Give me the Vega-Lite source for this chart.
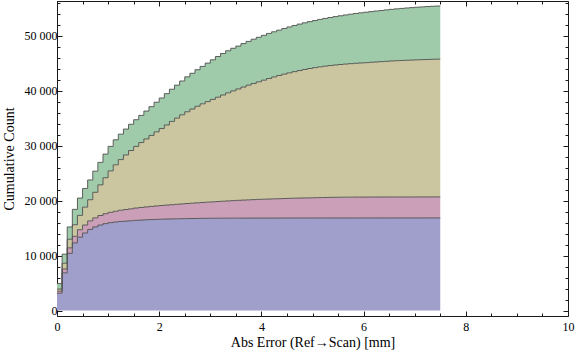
{
  "$schema": "https://vega.github.io/schema/vega-lite/v6.json",
  "width": 511,
  "height": 315,
  "autosize": {"type": "none"},
  "padding": {"left": 57, "top": 1, "right": 8, "bottom": 41},
  "background": "white",
  "config": {
    "view": {"stroke": "#1a1a1a", "strokeWidth": 1},
    "axis": {
      "labelFont": "Liberation Serif",
      "labelFontSize": 12,
      "labelColor": "#000000",
      "titleFont": "Liberation Serif",
      "titleFontSize": 14,
      "titleFontWeight": "normal",
      "titleColor": "#000000",
      "tickColor": "#1a1a1a",
      "tickWidth": 1,
      "domain": false,
      "grid": false,
      "labelOverlap": false,
      "labelFlush": false
    }
  },
  "data": {"values": [
    {"x": 0, "s4": 3150, "s3": 380, "s2": 370, "s1": 1000},
    {"x": 0.1, "s4": 6850, "s3": 700, "s2": 1050, "s1": 1650},
    {"x": 0.2, "s4": 10400, "s3": 1000, "s2": 1570, "s1": 2230},
    {"x": 0.3, "s4": 12300, "s3": 1200, "s2": 2100, "s1": 2800},
    {"x": 0.4, "s4": 13350, "s3": 1350, "s2": 2600, "s1": 3150},
    {"x": 0.5, "s4": 14100, "s3": 1450, "s2": 3250, "s1": 3400},
    {"x": 0.6, "s4": 14750, "s3": 1550, "s2": 3850, "s1": 3600},
    {"x": 0.7, "s4": 15200, "s3": 1650, "s2": 4650, "s1": 3850},
    {"x": 0.8, "s4": 15550, "s3": 1730, "s2": 5570, "s1": 4100},
    {"x": 0.9, "s4": 15800, "s3": 1810, "s2": 6540, "s1": 4300},
    {"x": 1.0, "s4": 15980, "s3": 1880, "s2": 7540, "s1": 4450},
    {"x": 1.1, "s4": 16100, "s3": 1960, "s2": 8440, "s1": 4550},
    {"x": 1.2, "s4": 16200, "s3": 2040, "s2": 9210, "s1": 4630},
    {"x": 1.3, "s4": 16260, "s3": 2110, "s2": 9930, "s1": 4700},
    {"x": 1.4, "s4": 16320, "s3": 2180, "s2": 10600, "s1": 4780},
    {"x": 1.5, "s4": 16400, "s3": 2240, "s2": 11210, "s1": 4860},
    {"x": 1.6, "s4": 16450, "s3": 2290, "s2": 11810, "s1": 4950},
    {"x": 1.7, "s4": 16500, "s3": 2340, "s2": 12360, "s1": 5080},
    {"x": 1.8, "s4": 16540, "s3": 2390, "s2": 12920, "s1": 5230},
    {"x": 1.9, "s4": 16580, "s3": 2440, "s2": 13480, "s1": 5390},
    {"x": 2.0, "s4": 16610, "s3": 2490, "s2": 14000, "s1": 5550},
    {"x": 2.1, "s4": 16640, "s3": 2540, "s2": 14570, "s1": 5700},
    {"x": 2.2, "s4": 16660, "s3": 2590, "s2": 15150, "s1": 5850},
    {"x": 2.3, "s4": 16680, "s3": 2640, "s2": 15680, "s1": 6000},
    {"x": 2.4, "s4": 16700, "s3": 2690, "s2": 16210, "s1": 6150},
    {"x": 2.5, "s4": 16720, "s3": 2740, "s2": 16690, "s1": 6350},
    {"x": 2.6, "s4": 16735, "s3": 2790, "s2": 17125, "s1": 6500},
    {"x": 2.7, "s4": 16750, "s3": 2840, "s2": 17560, "s1": 6650},
    {"x": 2.8, "s4": 16760, "s3": 2890, "s2": 17950, "s1": 6800},
    {"x": 2.9, "s4": 16770, "s3": 2940, "s2": 18290, "s1": 7000},
    {"x": 3.0, "s4": 16778, "s3": 2990, "s2": 18632, "s1": 7200},
    {"x": 3.1, "s4": 16785, "s3": 3040, "s2": 18975, "s1": 7400},
    {"x": 3.2, "s4": 16790, "s3": 3090, "s2": 19320, "s1": 7550},
    {"x": 3.3, "s4": 16795, "s3": 3140, "s2": 19665, "s1": 7650},
    {"x": 3.4, "s4": 16800, "s3": 3190, "s2": 19960, "s1": 7750},
    {"x": 3.5, "s4": 16803, "s3": 3240, "s2": 20257, "s1": 7800},
    {"x": 3.6, "s4": 16806, "s3": 3280, "s2": 20564, "s1": 7900},
    {"x": 3.7, "s4": 16809, "s3": 3320, "s2": 20871, "s1": 7950},
    {"x": 3.8, "s4": 16811, "s3": 3360, "s2": 21129, "s1": 8050},
    {"x": 3.9, "s4": 16813, "s3": 3400, "s2": 21387, "s1": 8100},
    {"x": 4.0, "s4": 16815, "s3": 3430, "s2": 21655, "s1": 8150},
    {"x": 4.1, "s4": 16817, "s3": 3460, "s2": 21923, "s1": 8200},
    {"x": 4.2, "s4": 16818, "s3": 3490, "s2": 22172, "s1": 8220},
    {"x": 4.3, "s4": 16819, "s3": 3520, "s2": 22411, "s1": 8250},
    {"x": 4.4, "s4": 16820, "s3": 3550, "s2": 22630, "s1": 8300},
    {"x": 4.5, "s4": 16821, "s3": 3580, "s2": 22829, "s1": 8350},
    {"x": 4.6, "s4": 16822, "s3": 3610, "s2": 23018, "s1": 8400},
    {"x": 4.7, "s4": 16823, "s3": 3630, "s2": 23197, "s1": 8450},
    {"x": 4.8, "s4": 16824, "s3": 3650, "s2": 23366, "s1": 8490},
    {"x": 4.9, "s4": 16825, "s3": 3670, "s2": 23525, "s1": 8530},
    {"x": 5.0, "s4": 16826, "s3": 3690, "s2": 23664, "s1": 8570},
    {"x": 5.1, "s4": 16827, "s3": 3710, "s2": 23783, "s1": 8630},
    {"x": 5.2, "s4": 16828, "s3": 3730, "s2": 23892, "s1": 8680},
    {"x": 5.3, "s4": 16829, "s3": 3750, "s2": 23981, "s1": 8740},
    {"x": 5.4, "s4": 16830, "s3": 3765, "s2": 24065, "s1": 8800},
    {"x": 5.5, "s4": 16830, "s3": 3775, "s2": 24145, "s1": 8860},
    {"x": 5.6, "s4": 16831, "s3": 3785, "s2": 24214, "s1": 8930},
    {"x": 5.7, "s4": 16831, "s3": 3790, "s2": 24279, "s1": 9000},
    {"x": 5.8, "s4": 16832, "s3": 3795, "s2": 24343, "s1": 9060},
    {"x": 5.9, "s4": 16832, "s3": 3798, "s2": 24400, "s1": 9120},
    {"x": 6.0, "s4": 16833, "s3": 3801, "s2": 24446, "s1": 9180},
    {"x": 6.1, "s4": 16833, "s3": 3804, "s2": 24513, "s1": 9220},
    {"x": 6.2, "s4": 16834, "s3": 3806, "s2": 24570, "s1": 9270},
    {"x": 6.3, "s4": 16834, "s3": 3808, "s2": 24628, "s1": 9310},
    {"x": 6.4, "s4": 16835, "s3": 3810, "s2": 24685, "s1": 9350},
    {"x": 6.5, "s4": 16835, "s3": 3812, "s2": 24743, "s1": 9390},
    {"x": 6.6, "s4": 16836, "s3": 3813, "s2": 24791, "s1": 9430},
    {"x": 6.7, "s4": 16836, "s3": 3814, "s2": 24830, "s1": 9470},
    {"x": 6.8, "s4": 16837, "s3": 3815, "s2": 24868, "s1": 9510},
    {"x": 6.9, "s4": 16837, "s3": 3816, "s2": 24907, "s1": 9540},
    {"x": 7.0, "s4": 16838, "s3": 3817, "s2": 24945, "s1": 9570},
    {"x": 7.1, "s4": 16838, "s3": 3818, "s2": 24974, "s1": 9600},
    {"x": 7.2, "s4": 16839, "s3": 3819, "s2": 25002, "s1": 9630},
    {"x": 7.3, "s4": 16839, "s3": 3820, "s2": 25031, "s1": 9650},
    {"x": 7.4, "s4": 16840, "s3": 3821, "s2": 25059, "s1": 9670},
    {"x": 7.5, "s4": 16840, "s3": 3821, "s2": 25059, "s1": 9670}
  ]},
  "transform": [{"fold": ["s4", "s3", "s2", "s1"], "as": ["series", "count"]}],
  "layer": [
    {
      "mark": {"type": "area", "interpolate": "step-after"},
      "encoding": {
        "x": {
          "field": "x", "type": "quantitative",
          "scale": {"domain": [0, 10], "nice": false, "zero": false},
          "axis": {
            "orient": "bottom",
            "title": "Abs Error (Ref→Scan) [mm]",
            "values": [0, 0.5, 1, 1.5, 2, 2.5, 3, 3.5, 4, 4.5, 5, 5.5, 6, 6.5, 7, 7.5, 8, 8.5, 9, 9.5, 10],
            "tickSize": {"condition": {"test": "datum.value % 2 === 0", "value": -5}, "value": -3},
            "labelExpr": "datum.value % 2 === 0 ? format(datum.value, 'd') : ''",
            "labelPadding": 10,
            "titlePadding": 1
          }
        },
        "y": {
          "field": "count", "type": "quantitative", "stack": "zero",
          "scale": {"domain": [-1000, 56300], "nice": false, "zero": false},
          "axis": {
            "orient": "left",
            "title": "Cumulative Count",
            "values": [0, 2000, 4000, 6000, 8000, 10000, 12000, 14000, 16000, 18000, 20000, 22000, 24000, 26000, 28000, 30000, 32000, 34000, 36000, 38000, 40000, 42000, 44000, 46000, 48000, 50000, 52000, 54000, 56000],
            "tickSize": {"condition": {"test": "datum.value % 10000 === 0", "value": -5}, "value": -3},
            "labelExpr": "datum.value % 10000 === 0 ? replace(format(datum.value, ','), ',', ' ') : ''",
            "labelPadding": 5,
            "titlePadding": 8
          }
        },
        "color": {
          "field": "series", "type": "nominal",
          "scale": {"domain": ["s4", "s3", "s2", "s1"], "range": ["#a09fcc", "#cb9fb8", "#cbc69f", "#9fcbaa"]},
          "legend": null
        }
      }
    },
    {
      "mark": {"type": "line", "interpolate": "step-after", "color": "#505050", "strokeWidth": 1, "opacity": 0.9},
      "encoding": {
        "x": {
          "field": "x", "type": "quantitative",
          "axis": {
            "orient": "top",
            "title": null,
            "labels": false,
            "values": [0, 0.5, 1, 1.5, 2, 2.5, 3, 3.5, 4, 4.5, 5, 5.5, 6, 6.5, 7, 7.5, 8, 8.5, 9, 9.5, 10],
            "tickSize": {"condition": {"test": "datum.value % 2 === 0", "value": -5}, "value": -3}
          }
        },
        "y": {
          "field": "count", "type": "quantitative", "stack": "zero",
          "axis": {
            "orient": "right",
            "title": null,
            "labels": false,
            "values": [0, 2000, 4000, 6000, 8000, 10000, 12000, 14000, 16000, 18000, 20000, 22000, 24000, 26000, 28000, 30000, 32000, 34000, 36000, 38000, 40000, 42000, 44000, 46000, 48000, 50000, 52000, 54000, 56000],
            "tickSize": {"condition": {"test": "datum.value % 10000 === 0", "value": -5}, "value": -3}
          }
        },
        "detail": {"field": "series", "type": "nominal"}
      }
    }
  ]
}
